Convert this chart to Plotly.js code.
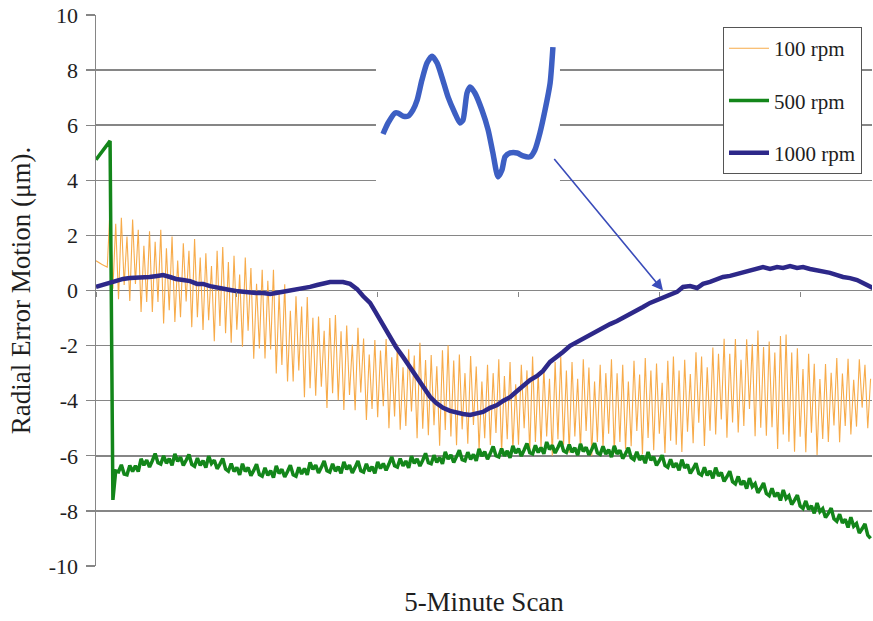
<!DOCTYPE html>
<html>
<head>
<meta charset="utf-8">
<script src="https://cdn.plot.ly/plotly-3.0.1.min.js"></script>
<style>html,body{margin:0;padding:0;background:#fff;}#chart{width:873px;height:621px;}</style>
</head>
<body>
<div id="chart"></div>
<script>
// 5-minute scan, one sample per second (time axis starts at 0 s)
const seriesNames = ["100 rpm", "500 rpm", "1000 rpm"];

// 100 rpm radial error motion (µm), 1 s samples
const rpm100 = [
1.08,1.0,0.95,0.9,0.85,
3.0,0.06,2.42,-0.32,2.64,0.2,1.96,-0.38,2.58,0.24,2.2,-0.78,1.62,-0.42,2.15,-0.78,1.77,-0.42,2.2,-1.2,
1.53,-0.72,1.96,-1.14,1.09,-0.97,1.71,-0.4,1.44,-1.33,1.87,-0.97,1.2,-1.43,1.35,-1.08,0.89,-1.84,1.44,-1.29,
1.58,-1.55,1.03,-1.9,1.26,-1.42,0.58,-2.04,1.2,-1.46,0.82,-2.48,0.24,-2.1,0.75,-2.47,0.35,-2.14,0.75,-3.01,
-0.1,-2.7,0.23,-3.3,-0.74,-3.3,-0.21,-2.9,-0.58,-3.87,-0.24,-3.55,-0.99,-3.82,-0.94,-3.49,-1.46,-4.26,-1.0,-3.73,
-0.89,-3.98,-1.48,-4.34,-1.27,-3.79,-1.96,-4.35,-1.35,-3.7,-1.74,-4.7,-2.32,-4.3,-1.8,-4.6,-2.18,-4.2,-1.76,-5.0,
-2.42,-4.57,-1.95,-5.05,-2.79,-4.92,-2.13,-4.39,-2.36,-5.36,-1.9,-5.02,-2.52,-5.25,-2.34,-4.89,-2.75,-5.63,-2.17,-5.06,
-1.99,-5.3,-2.54,-5.62,-2.32,-5.04,-3.0,-5.56,-2.38,-4.88,-2.76,-5.8,-3.3,-5.36,-2.7,-5.61,-3.0,-5.17,-2.5,-5.9,
-3.1,-5.4,-2.6,-5.8,-3.4,-5.6,-2.7,-5.0,-2.9,-5.9,-2.4,-5.5,-3.0,-5.7,-2.8,-5.3,-3.2,-6.0,-2.6,-5.4,
-2.4,-5.6,-2.9,-5.9,-2.6,-5.3,-3.2,-5.8,-2.5,-5.1,-2.8,-6.0,-3.3,-5.5,-2.7,-5.7,-3.0,-5.2,-2.5,-5.9,
-3.0,-5.5,-2.7,-5.75,-3.3,-5.65,-2.55,-5.1,-3.05,-5.95,-2.45,-5.35,-2.9,-5.8,-2.65,-5.2,-3.35,-5.9,-2.55,-5.45,
-2.4,-5.6,-2.9,-5.86,-2.51,-5.13,-3.03,-5.54,-2.24,-4.8,-2.4,-5.64,-2.79,-5.09,-2.07,-5.23,-2.3,-4.68,-1.75,-5.34,
-2.3,-4.79,-1.76,-5.15,-2.51,-4.92,-1.77,-4.3,-1.95,-5.29,-1.45,-4.98,-2.05,-5.27,-1.85,-4.96,-2.25,-5.75,-1.65,-5.23,
-1.6,-5.49,-2.25,-5.85,-2.1,-5.31,-2.85,-5.87,-2.3,-5.16,-2.66,-5.97,-3.21,-5.39,-2.67,-5.5,-2.99,-4.9,-2.45,-5.51,
-3.01,-4.92,-2.48,-5.23,-3.24,-4.94,-2.5,-4.25,-2.7,-5.0,
-3.2
];

// 500 rpm radial error motion (µm), 1 s samples
const rpm500 = [
4.75,4.88,5.02,5.15,5.3,5.43,-7.6,-6.55,
-6.58,-6.33,-6.66,-6.69,-6.35,-6.57,-6.36,-6.57,-6.11,-6.34,-6.16,-6.41,
-6.18,-5.92,-6.25,-6.3,-6.0,-6.27,-6.1,-6.35,-5.93,-6.2,-6.05,-6.35,
-6.16,-5.95,-6.31,-6.38,-6.08,-6.35,-6.18,-6.43,-6.01,-6.28,-6.16,-6.47,
-6.3,-6.1,-6.48,-6.56,-6.28,-6.57,-6.42,-6.69,-6.29,-6.57,-6.43,-6.72,
-6.53,-6.31,-6.68,-6.74,-6.44,-6.71,-6.54,-6.79,-6.37,-6.64,-6.49,-6.77,
-6.57,-6.34,-6.69,-6.74,-6.42,-6.66,-6.46,-6.69,-6.24,-6.49,-6.34,-6.62,
-6.42,-6.19,-6.54,-6.59,-6.29,-6.56,-6.39,-6.64,-6.22,-6.49,-6.34,-6.62,
-6.42,-6.19,-6.54,-6.59,-6.29,-6.56,-6.39,-6.64,-6.22,-6.46,-6.28,-6.53,
-6.3,-6.04,-6.36,-6.41,-6.1,-6.37,-6.19,-6.44,-6.01,-6.27,-6.11,-6.37,
-6.16,-5.91,-6.25,-6.29,-5.98,-6.24,-6.06,-6.29,-5.86,-6.12,-5.97,-6.24,
-6.03,-5.8,-6.14,-6.18,-5.87,-6.13,-5.95,-6.18,-5.75,-6.01,-5.85,-6.12,
-5.91,-5.66,-6.0,-6.04,-5.74,-6.0,-5.82,-6.07,-5.64,-5.9,-5.74,-6.01,
-5.79,-5.55,-5.89,-5.93,-5.62,-5.88,-5.7,-5.93,-5.5,-5.77,-5.62,-5.9,
-5.7,-5.47,-5.82,-5.88,-5.59,-5.87,-5.71,-5.98,-5.57,-5.84,-5.69,-5.97,
-5.77,-5.54,-5.89,-5.95,-5.66,-5.94,-5.78,-6.05,-5.64,-5.93,-5.8,-6.1,
-5.92,-5.71,-6.07,-6.14,-5.86,-6.15,-6.0,-6.27,-5.86,-6.16,-6.04,-6.35,
-6.18,-5.98,-6.35,-6.42,-6.13,-6.42,-6.27,-6.53,-6.14,-6.44,-6.32,-6.64,
-6.47,-6.27,-6.64,-6.7,-6.42,-6.71,-6.55,-6.82,-6.43,-6.73,-6.61,-6.93,
-6.76,-6.56,-6.94,-7.02,-6.75,-7.05,-6.91,-7.19,-6.81,-7.12,-7.01,-7.34,
-7.18,-6.99,-7.37,-7.45,-7.18,-7.48,-7.34,-7.62,-7.24,-7.55,-7.45,-7.77,
-7.61,-7.43,-7.82,-7.91,-7.64,-7.95,-7.82,-8.09,-7.71,-8.03,-7.92,-8.24,
-8.09,-7.9,-8.29,-8.38,-8.12,-8.44,-8.31,-8.6,-8.23,-8.56,-8.46,-8.8,
-8.65,-8.47,-8.88,-9.0
];

// 1000 rpm radial error motion (µm), read at irregular times (s)
const rpm1000Time = [0,2.5,5,7.5,9.6,12,14.6,17,19,21.7,23.8,26.3,28.4,30.9,33.4,35.9,38,40.5,42.6,45.1,
47.6,49.7,52.2,54.7,56.8,59.3,61.8,63.9,66.4,68.9,71.4,73.5,76,78.5,80.6,83.1,85.6,87.7,90.2,92.7,
94.8,97.3,99,100.8,102.6,104.4,106.5,109,111.5,114,116,118.6,120.7,123.2,125.7,128.2,130.3,132.8,135.3,137.4,
139.9,142.4,144.5,147,149.5,151.6,154.1,156.6,158.7,161.2,163.7,165.8,168.3,170.8,172.9,175.4,177.9,180,182.5,185,
187.1,189.6,192.1,194.2,196.7,199.2,201.3,203.8,206.3,208.4,210.9,213.4,215.5,218,220.5,222.6,225.1,227.6,229.7,232.2,
234.7,236.8,239.3,241.8,243.9,246.4,248.9,251,253.5,256,258.1,260.6,263.1,265.2,267.7,270.2,272.3,274.8,275.8];
const rpm1000 = [0.13,0.2,0.31,0.34,0.42,0.45,0.45,0.49,0.49,0.53,0.56,0.49,0.42,0.38,0.34,0.24,0.24,0.16,0.13,0.09,
0.02,-0.02,-0.05,-0.09,-0.09,-0.09,-0.13,-0.09,-0.05,0.02,0.02,0.09,0.13,0.2,0.24,0.31,0.31,0.31,0.24,0.05,
-0.2,-0.45,-0.74,-1.07,-1.36,-1.69,-2.05,-2.41,-2.78,-3.14,-3.5,-3.86,-4.08,-4.26,-4.37,-4.45,-4.48,-4.52,-4.45,-4.41,
-4.26,-4.16,-4.01,-3.87,-3.65,-3.47,-3.25,-3.1,-2.92,-2.59,-2.41,-2.23,-2.01,-1.87,-1.76,-1.58,-1.47,-1.32,-1.22,-1.11,
-1.0,-0.85,-0.74,-0.6,-0.45,-0.34,-0.24,-0.16,-0.05,0.13,0.16,0.09,0.24,0.31,0.42,0.49,0.53,0.6,0.67,0.71,
0.82,0.85,0.78,0.85,0.82,0.89,0.82,0.85,0.78,0.74,0.67,0.64,0.56,0.49,0.45,0.38,0.27,0.16,0.09];

// Magnified detail of the 1000 rpm trace (inset)
const insetTime = [101.9,103.7,106.1,107.2,109,110.8,112.5,114,115.7,117.5,119.3,121.1,122.8,125,127.4,129.2,130.3,131.7,132.8,134.5,
137,139.2,140.9,142.7,144.1,145.2,147,149.5,151.6,154.1,155.8,157.6,159.4,161.2,162.2];
const insetValue = [5.68,6.08,6.44,6.44,6.33,6.33,6.55,6.91,7.64,8.26,8.51,8.26,7.75,7.02,6.44,6.08,6.19,7.17,7.39,7.17,
6.55,5.83,4.99,4.12,4.37,4.85,4.99,4.99,4.88,4.85,5.1,5.72,6.55,7.53,8.84];

const yTicks = [-10,-8,-6,-4,-2,0,2,4,6,8,10];

const serif = "Liberation Serif, Times New Roman, serif";
const gridCol = "#868686";
const textCol = "#1e1e1e";

const traces = [
  {name: seriesNames[0], y: rpm100, x0: 0, dx: 1, type: "scatter", mode: "lines",
   line: {color: "#f7a640", width: 1.1}, opacity: 0.95, legendgroup: "a", xaxis: "x", yaxis: "y"},
  {name: seriesNames[1], y: rpm500, x0: 0, dx: 1, type: "scatter", mode: "lines",
   line: {color: "#13861a", width: 3.5}, legendgroup: "b", xaxis: "x", yaxis: "y"},
  {name: seriesNames[2], x: rpm1000Time, y: rpm1000, type: "scatter", mode: "lines",
   line: {color: "#2d2889", width: 4.5}, legendgroup: "c", xaxis: "x2", yaxis: "y"},
  {name: "inset", x: insetTime, y: insetValue, type: "scatter", mode: "lines", showlegend: false,
   line: {color: "#3d5fc3", width: 5.5, shape: "spline", smoothing: 0.6}, xaxis: "x3", yaxis: "y3"}
];

const layout = {
  width: 873, height: 621,
  margin: {l: 96, r: 1, t: 15, b: 55},
  paper_bgcolor: "#fff", plot_bgcolor: "#fff",
  showlegend: true,
  font: {family: serif, color: textCol},
  xaxis: {
    domain: [0, 1], range: [0, 275.5], showgrid: false, zeroline: false, showline: false,
    ticks: "", showticklabels: false, fixedrange: true,
    title: {text: "5-Minute Scan", font: {family: serif, size: 27, color: textCol}, standoff: 26}
  },
  xaxis2: {
    overlaying: "x", anchor: "free", position: 0.5, range: [0, 275.5],
    showgrid: false, zeroline: false, showline: false, showticklabels: false,
    ticks: "outside", ticklen: 5, tickwidth: 1.2, tickcolor: gridCol, tick0: 0, dtick: 50
  },
  yaxis: {
    domain: [0, 1], range: [-10, 10], tickvals: yTicks, ticktext: yTicks.map(String),
    ticks: "outside", ticklen: 9, tickwidth: 1.3, tickcolor: gridCol,
    showline: true, linecolor: gridCol, linewidth: 1.5,
    showgrid: true, gridcolor: gridCol, gridwidth: 1.5, zeroline: false,
    tickfont: {family: serif, size: 22, color: textCol}, ticklabelstandoff: 3,
    title: {text: "Radial Error Motion (μm).", font: {family: serif, size: 27, color: textCol}, standoff: 10}
  },
  xaxis3: {domain: [0.3608, 0.5979], range: [99.4, 164.7], anchor: "y3", visible: false, fixedrange: true},
  yaxis3: {domain: [0.6897, 0.9583], range: [3.79, 9.17], anchor: "x3", visible: false, fixedrange: true},
  legend: {
    x: 0.808, y: 0.978, xanchor: "left", yanchor: "top",
    bgcolor: "#fff", bordercolor: "#555", borderwidth: 1,
    font: {family: serif, size: 21, color: textCol},
    tracegroupgap: 22, itemwidth: 40
  },
  annotations: [{
    x: 201.3, y: 0, xref: "x", yref: "y", text: "", showarrow: true,
    ax: -110, ay: -133, arrowhead: 2, arrowsize: 1.4, arrowwidth: 1.6, arrowcolor: "#3a4cba", standoff: 0
  }]
};

Plotly.newPlot("chart", traces, layout, {displayModeBar: false, staticPlot: true});
</script>
</body>
</html>
